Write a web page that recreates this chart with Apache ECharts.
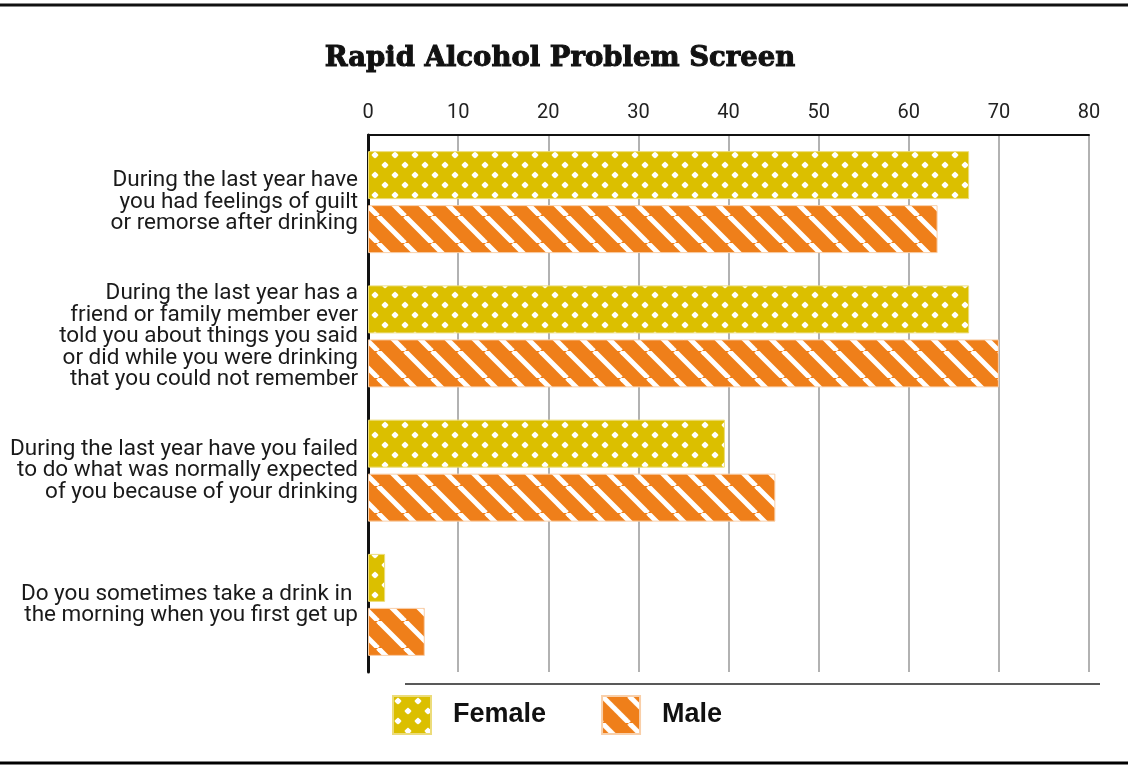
<!DOCTYPE html>
<html lang="en">
<head>
    <meta charset="UTF-8">
    <title>Rapid Alcohol Problem Screen</title>
    <style>
        html, body { margin: 0; padding: 0; background: #fff; }
    </style>
</head>
<body>
<div id="chart-wrap" style="height: 765px;width: 1128px;"></div>
</body>
<script src="https://cdn.jsdelivr.net/npm/echarts@6/dist/echarts.min.js"></script>
<script>
    var questions = [
        'During the last year have\nyou had feelings of guilt\nor remorse after drinking',
        'During the last year has a\nfriend or family member ever\ntold you about things you said\nor did while you were drinking\nthat you could not remember',
        'During the last year have you failed\nto do what was normally expected\nof you because of your drinking',
        'Do you sometimes take a drink in \nthe morning when you first get up'
    ];
    var femaleValues = [66.7, 66.7, 39.6, 1.9];
    var maleValues = [63.2, 70.0, 45.2, 6.3];
    var seriesNames = ['Female', 'Male'];

    // 点状图案 (Female)
    function dotPattern() {
        var c = document.createElement('canvas');
        c.width = 20; c.height = 20;
        var ctx = c.getContext('2d');
        ctx.fillStyle = '#dbbf00';
        ctx.fillRect(0, 0, 20, 20);
        ctx.fillStyle = '#ffffff';
        [[5, 5], [15, 15]].forEach(function (p) {
            ctx.beginPath();
            ctx.moveTo(p[0], p[1] - 3.6);
            ctx.lineTo(p[0] + 3.6, p[1]);
            ctx.lineTo(p[0], p[1] + 3.6);
            ctx.lineTo(p[0] - 3.6, p[1]);
            ctx.closePath();
            ctx.fill();
            ctx.beginPath();
            ctx.arc(p[0], p[1], 2.6, 0, Math.PI * 2);
            ctx.fill();
        });
        return c;
    }

    // 斜线图案 (Male)
    function stripePattern() {
        var s = 27;
        var c = document.createElement('canvas');
        c.width = s; c.height = s;
        var ctx = c.getContext('2d');
        ctx.fillStyle = '#ef7f1a';
        ctx.fillRect(0, 0, s, s);
        ctx.strokeStyle = '#ffffff';
        ctx.lineWidth = 5;
        for (var k = -1; k <= 1; k++) {
            ctx.beginPath();
            ctx.moveTo(k * s, 0);
            ctx.lineTo(k * s + s, s);
            ctx.stroke();
        }
        return c;
    }

    var chart = echarts.init(document.getElementById('chart-wrap'));

    var option = {
        backgroundColor: '#fff',
        animation: false,
        title: {
            text: 'Rapid Alcohol Problem Screen',
            left: 555,
            top: 40,
            textAlign: 'center',
            textStyle: {
                fontFamily: 'DejaVu Serif',
                fontWeight: 'bold',
                fontSize: 27.5,
                color: '#111',
                textBorderColor: '#111',
                textBorderWidth: 1
            }
        },
        grid: {
            left: 368,
            right: 39,
            top: 135,
            bottom: 93
        },
        legend: {
            data: seriesNames,
            left: 387,
            top: 690,
            icon: 'rect',
            itemWidth: 38,
            itemHeight: 38,
            itemGap: 55,
            textStyle: {
                fontFamily: 'Liberation Sans',
                fontWeight: 'bold',
                fontSize: 27,
                color: '#111',
                padding: [9, 0, 0, 17]
            }
        },
        xAxis: {
            type: 'value',
            position: 'top',
            min: 0,
            max: 80,
            interval: 10,
            axisLine: { show: true, lineStyle: { color: '#111', width: 2 } },
            axisTick: { show: false },
            axisLabel: {
                margin: 12,
                fontFamily: 'Roboto',
                fontSize: 20,
                color: '#222'
            },
            splitLine: { show: true, lineStyle: { color: '#999', width: 1.5 } }
        },
        yAxis: {
            type: 'category',
            inverse: true,
            data: questions,
            axisLine: { show: true, lineStyle: { color: '#111', width: 3 } },
            axisTick: { show: false },
            axisLabel: {
                margin: 10,
                fontFamily: 'Roboto',
                fontSize: 22.5,
                lineHeight: 21.5,
                color: '#1a1a1a',
                align: 'right'
            }
        },
        series: [
            {
                name: seriesNames[0],
                type: 'bar',
                data: femaleValues,
                barWidth: 48,
                barGap: '12.5%',
                itemStyle: {
                    color: { image: dotPattern(), repeat: 'repeat' },
                    borderColor: '#ecdc7a',
                    borderWidth: 1
                }
            },
            {
                name: seriesNames[1],
                type: 'bar',
                data: maleValues,
                barWidth: 48,
                barGap: '12.5%',
                itemStyle: {
                    color: { image: stripePattern(), repeat: 'repeat' },
                    borderColor: '#f9cfa9',
                    borderWidth: 1
                }
            }
        ],
        graphic: [
            { type: 'line', shape: { x1: 0, y1: 5, x2: 1128, y2: 5 }, style: { stroke: '#111', lineWidth: 3 } },
            { type: 'line', shape: { x1: 405, y1: 684, x2: 1100, y2: 684 }, style: { stroke: '#222', lineWidth: 1.5 } },
            { type: 'line', shape: { x1: 0, y1: 763, x2: 1128, y2: 763 }, style: { stroke: '#000', lineWidth: 3 } }
        ]
    };

    chart.setOption(option);
</script>
</html>
